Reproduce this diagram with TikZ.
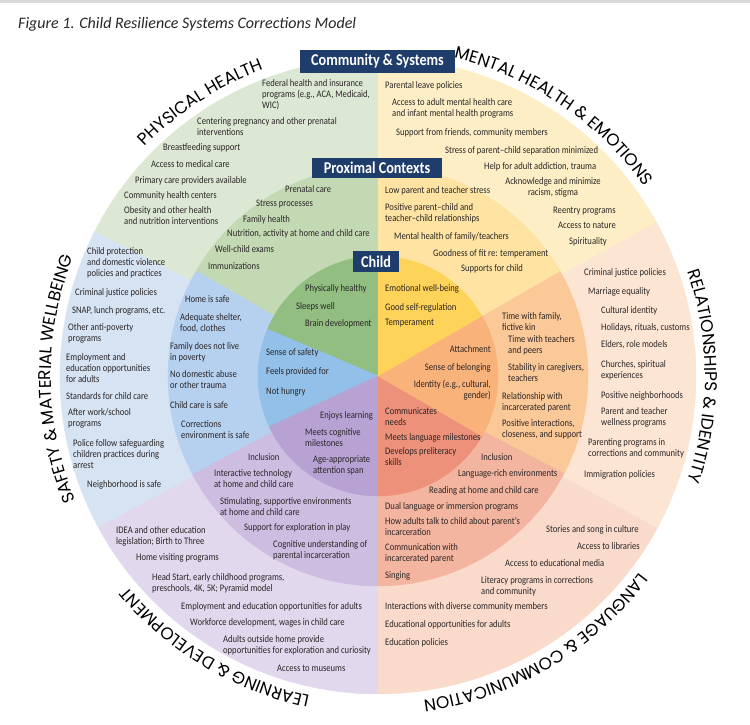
\documentclass[tikz,border=0pt]{standalone}
\usepackage{fontspec}
\setmainfont{Carlito}[FakeStretch=0.86]
\newfontfamily\titlefont{Carlito}
\newfontfamily\ringfont{Poppins}
\usetikzlibrary{decorations.text,calc}

\definecolor{navy}{HTML}{1F3D6B}
\definecolor{txt}{HTML}{2A2526}
% outer ring
\definecolor{gO}{HTML}{DCE8D3}
\definecolor{bO}{HTML}{D5E3F3}
\definecolor{pO}{HTML}{E1D8ED}
\definecolor{lO}{HTML}{F9DACB}
\definecolor{rO}{HTML}{FDE5D3}
\definecolor{yO}{HTML}{FDEEC6}
% middle ring
\definecolor{gM}{HTML}{C3D9B3}
\definecolor{bM}{HTML}{B5D1EF}
\definecolor{pM}{HTML}{CDBDE1}
\definecolor{lM}{HTML}{F3B59F}
\definecolor{rM}{HTML}{FBC898}
\definecolor{yM}{HTML}{FEE3A2}
% inner ring
\definecolor{gI}{HTML}{92BE82}
\definecolor{bI}{HTML}{92C0E8}
\definecolor{pI}{HTML}{B7A2D3}
\definecolor{lI}{HTML}{EE917A}
\definecolor{rI}{HTML}{F9B37A}
\definecolor{yI}{HTML}{FED35A}

\newcommand\wedgefill[4]{\filldraw[fill=#1,draw=#1,line width=0.4pt] (C) -- ($(C)+(#2:#4)$) arc[start angle=#2, end angle=#3, radius=#4] -- cycle;}
\newcommand\ringlabel[3]{\path[decorate,decoration={text along path,text align=center,text={|\ringfont\fontsize{17}{17}\selectfont|#1}}] ($(C)+(#2:327)$) arc[start angle=#2, end angle=#3, radius=327];}

\tikzset{
  tx/.style={anchor=north west, inner sep=0pt, align=left, text=txt, font=\fontsize{10}{11}\selectfont},
  tc/.style={anchor=north, inner sep=0pt, align=center, text=txt, font=\fontsize{10}{11}\selectfont},
  tr/.style={anchor=north east, inner sep=0pt, align=right, text=txt, font=\fontsize{10}{11}\selectfont},
  head/.style={fill=navy, text=white, inner sep=0pt, font=\fontsize{16.5}{18}\selectfont\bfseries}
}

\begin{document}
\begin{tikzpicture}[x=1pt,y=1pt]
\useasboundingbox (0,0) rectangle (750,725);
\fill[white] (0,0) rectangle (750,725);
\fill[gray!30] (0,722) rectangle (750,725);
\coordinate (C) at (378,349);

% outer ring
\wedgefill{gO}{90}{153}{318}
\wedgefill{bO}{153}{208.5}{318}
\wedgefill{pO}{208.5}{270}{318}
\wedgefill{lO}{270}{331.5}{318}
\wedgefill{rO}{-28.5}{29}{318}
\wedgefill{yO}{29}{90}{318}
% middle ring
\wedgefill{gM}{90}{150}{210}
\wedgefill{bM}{150}{208}{210}
\wedgefill{pM}{208}{270}{210}
\wedgefill{lM}{270}{332.5}{210}
\wedgefill{rM}{-27.5}{30}{210}
\wedgefill{yM}{30}{90}{210}
% inner ring
\wedgefill{gI}{90}{157}{120}
\wedgefill{bI}{157}{205}{120}
\wedgefill{pI}{205}{270}{120}
\wedgefill{lI}{270}{330}{120}
\wedgefill{rI}{-30}{30}{120}
\wedgefill{yI}{30}{90}{120}

% ring labels (clockwise, tops outward)
\ringlabel{PHYSICAL HEALTH}{163}{83}
\ringlabel{MENTAL HEALTH {\&} EMOTIONS}{110}{2}
\ringlabel{RELATIONSHIPS {\&} IDENTITY}{50}{-50}
\ringlabel{LANGUAGE {\&} COMMUNICATION}{-5}{-114}
\ringlabel{LEARNING {\&} DEVELOPMENT}{-66}{-176}
\ringlabel{SAFETY {\&} MATERIAL WELLBEING}{235}{126}

\begin{scope}[shift={(0,725)}, y=-1pt]
\node[anchor=base west, inner sep=0pt, text=txt, font=\titlefont\itshape\fontsize{16}{18}\selectfont] (title) at (18,29) {Figure 1. Child Resilience Systems Corrections Model};

% heading boxes
\node[head, minimum width=155pt, minimum height=23pt] (hcs) at (377.5,61.5) {Community \& Systems};
\node[head, minimum width=130pt, minimum height=20pt] (hpc) at (377,168) {Proximal Contexts};
\node[head, minimum width=46pt, minimum height=21pt] (hch) at (376,261.5) {Child};

% physical health - outer
\node[tx] (g1) at (262,79) {Federal health and insurance\\programs (e.g., ACA, Medicaid,\\WIC)};
\node[tx] (g2) at (197,117) {Centering pregnancy and other prenatal\\interventions};
\node[tx] (g3) at (163,143) {Breastfeeding support};
\node[tx] (g4) at (151,160) {Access to medical care};
\node[tx] (g5) at (135,176) {Primary care providers available};
\node[tx] (g6) at (124,191) {Community health centers};
\node[tx] (g7) at (124,206) {Obesity and other health\\and nutrition interventions};
% physical health - middle
\node[tx] (g8) at (285,185) {Prenatal care};
\node[tx] (g9) at (256,200) {Stress processes};
\node[tx] (g10) at (243,215) {Family health};
\node[tx] (g11) at (227,229) {Nutrition, activity at home and child care};
\node[tx] (g12) at (215,245) {Well-child exams};
\node[tx] (g13) at (208,262) {Immunizations};
% physical health - child
\node[tx] (g14) at (305,284) {Physically healthy};
\node[tx] (g15) at (296,302) {Sleeps well};
\node[tx] (g16) at (305,319) {Brain development};

% safety - outer
\node[tx] (b1) at (87,247) {Child protection\\and domestic violence\\policies and practices};
\node[tx] (b2) at (75,288) {Criminal justice policies};
\node[tx] (b3) at (72,306) {SNAP, lunch programs, etc.};
\node[tx] (b4) at (68,323) {Other anti-poverty\\programs};
\node[tx] (b5) at (66,353) {Employment and\\education opportunities\\for adults};
\node[tx] (b6) at (66,392) {Standards for child care};
\node[tx] (b7) at (68,408) {After work/school\\programs};
\node[tx] (b8) at (73,439) {Police follow safeguarding\\children practices during\\arrest};
\node[tx] (b9) at (87,480) {Neighborhood is safe};
% safety - middle
\node[tx] (b10) at (185,295) {Home is safe};
\node[tx] (b11) at (180,313) {Adequate shelter,\\food, clothes};
\node[tx] (b12) at (170,342) {Family does not live\\in poverty};
\node[tx] (b13) at (170,370) {No domestic abuse\\or other trauma};
\node[tx] (b14) at (170,401) {Child care is safe};
\node[tx] (b15) at (181,420) {Corrections\\environment is safe};
% safety - child
\node[tx] (b16) at (266,348) {Sense of safety};
\node[tx] (b17) at (266,367) {Feels provided for};
\node[tx] (b18) at (266,387) {Not hungry};

% learning - child
\node[tx] (p1) at (320,411) {Enjoys learning};
\node[tx] (p2) at (305,428) {Meets cognitive\\milestones};
\node[tx] (p3) at (313,455) {Age-appropriate\\attention span};
% learning - middle
\node[tx] (p4) at (248,453) {Inclusion};
\node[tx] (p5) at (214,469) {Interactive technology\\at home and child care};
\node[tx] (p6) at (220,497) {Stimulating, supportive environments\\at home and child care};
\node[tx] (p7) at (244,523) {Support for exploration in play};
\node[tx] (p8) at (273,540) {Cognitive understanding of\\parental incarceration};
% learning - outer
\node[tx] (p9) at (116,526) {IDEA and other education\\legislation; Birth to Three};
\node[tx] (p10) at (136,553) {Home visiting programs};
\node[tx] (p11) at (152,573) {Head Start, early childhood programs,\\preschools, 4K, 5K; Pyramid model};
\node[tx] (p12) at (181,602) {Employment and education opportunities for adults};
\node[tx] (p13) at (190,618) {Workforce development, wages in child care};
\node[tx] (p14) at (223,635) {Adults outside home provide\\opportunities for exploration and curiosity};
\node[tx] (p15) at (277,665) {Access to museums};

% mental health - outer
\node[tx] (y1) at (385,81) {Parental leave policies};
\node[tx] (y2) at (392,98) {Access to adult mental health care\\and infant mental health programs};
\node[tx] (y3) at (396,128) {Support from friends, community members};
\node[tx] (y4) at (445,146) {Stress of parent–child separation minimized};
\node[tx] (y5) at (484,162) {Help for adult addiction, trauma};
\node[tc] (y6) at (553,177) {Acknowledge and minimize\\racism, stigma};
\node[tx] (y7) at (553,207) {Reentry programs};
\node[tx] (y8) at (558,222) {Access to nature};
\node[tx] (y9) at (569,237) {Spirituality};
% mental health - middle
\node[tx] (y10) at (385,186) {Low parent and teacher stress};
\node[tx] (y11) at (385,203) {Positive parent–child and\\teacher–child relationships};
\node[tx] (y12) at (394,232) {Mental health of family/teachers};
\node[tx] (y13) at (433,249) {Goodness of fit re: temperament};
\node[tx] (y14) at (461,264) {Supports for child};
% mental health - child
\node[tx] (y15) at (385,284) {Emotional well-being};
\node[tx] (y16) at (385,303) {Good self-regulation};
\node[tx] (y17) at (385,319) {Temperament};

% relationships - child
\node[tr] (r1) at (491,345) {Attachment};
\node[tr] (r2) at (491,363) {Sense of belonging};
\node[tr] (r3) at (491,380) {Identity (e.g., cultural,\\gender)};
% relationships - middle
\node[tx] (r4) at (502,312) {Time with family,\\fictive kin};
\node[tx] (r5) at (508,335) {Time with teachers\\and peers};
\node[tx] (r6) at (508,363) {Stability in caregivers,\\teachers};
\node[tx] (r7) at (502,392) {Relationship with\\incarcerated parent};
\node[tx] (r8) at (502,419) {Positive interactions,\\closeness, and support};
% relationships - outer
\node[tx] (r9) at (584,268) {Criminal justice policies};
\node[tx] (r10) at (588,287) {Marriage equality};
\node[tx] (r11) at (601,306) {Cultural identity};
\node[tx] (r12) at (601,323) {Holidays, rituals, customs};
\node[tx] (r13) at (601,340) {Elders, role models};
\node[tx] (r14) at (601,360) {Churches, spiritual\\experiences};
\node[tx] (r15) at (601,391) {Positive neighborhoods};
\node[tx] (r16) at (601,407) {Parent and teacher\\wellness programs};
\node[tx] (r17) at (588,438) {Parenting programs in\\corrections and community};
\node[tx] (r18) at (584,470) {Immigration policies};

% language - child
\node[tx] (l1) at (385,407) {Communicates\\needs};
\node[tx] (l2) at (385,433) {Meets language milestones};
\node[tx] (l3) at (385,447) {Develops preliteracy\\skills};
% language - middle
\node[tx] (l4) at (481,453) {Inclusion};
\node[tx] (l5) at (458,469) {Language-rich environments};
\node[tx] (l6) at (429,486) {Reading at home and child care};
\node[tx] (l7) at (385,502) {Dual language or immersion programs};
\node[tx] (l8) at (385,517) {How adults talk to child about parent’s\\incarceration};
\node[tx] (l9) at (385,543) {Communication with\\incarcerated parent};
\node[tx] (l10) at (385,571) {Singing};
% language - outer
\node[tx] (l11) at (546,525) {Stories and song in culture};
\node[tx] (l12) at (577,542) {Access to libraries};
\node[tx] (l13) at (505,559) {Access to educational media};
\node[tx] (l14) at (481,576) {Literacy programs in corrections\\and community};
\node[tx] (l15) at (385,602) {Interactions with diverse community members};
\node[tx] (l16) at (385,620) {Educational opportunities for adults};
\node[tx] (l17) at (385,638) {Education policies};
\end{scope}
\end{tikzpicture}
\end{document}
